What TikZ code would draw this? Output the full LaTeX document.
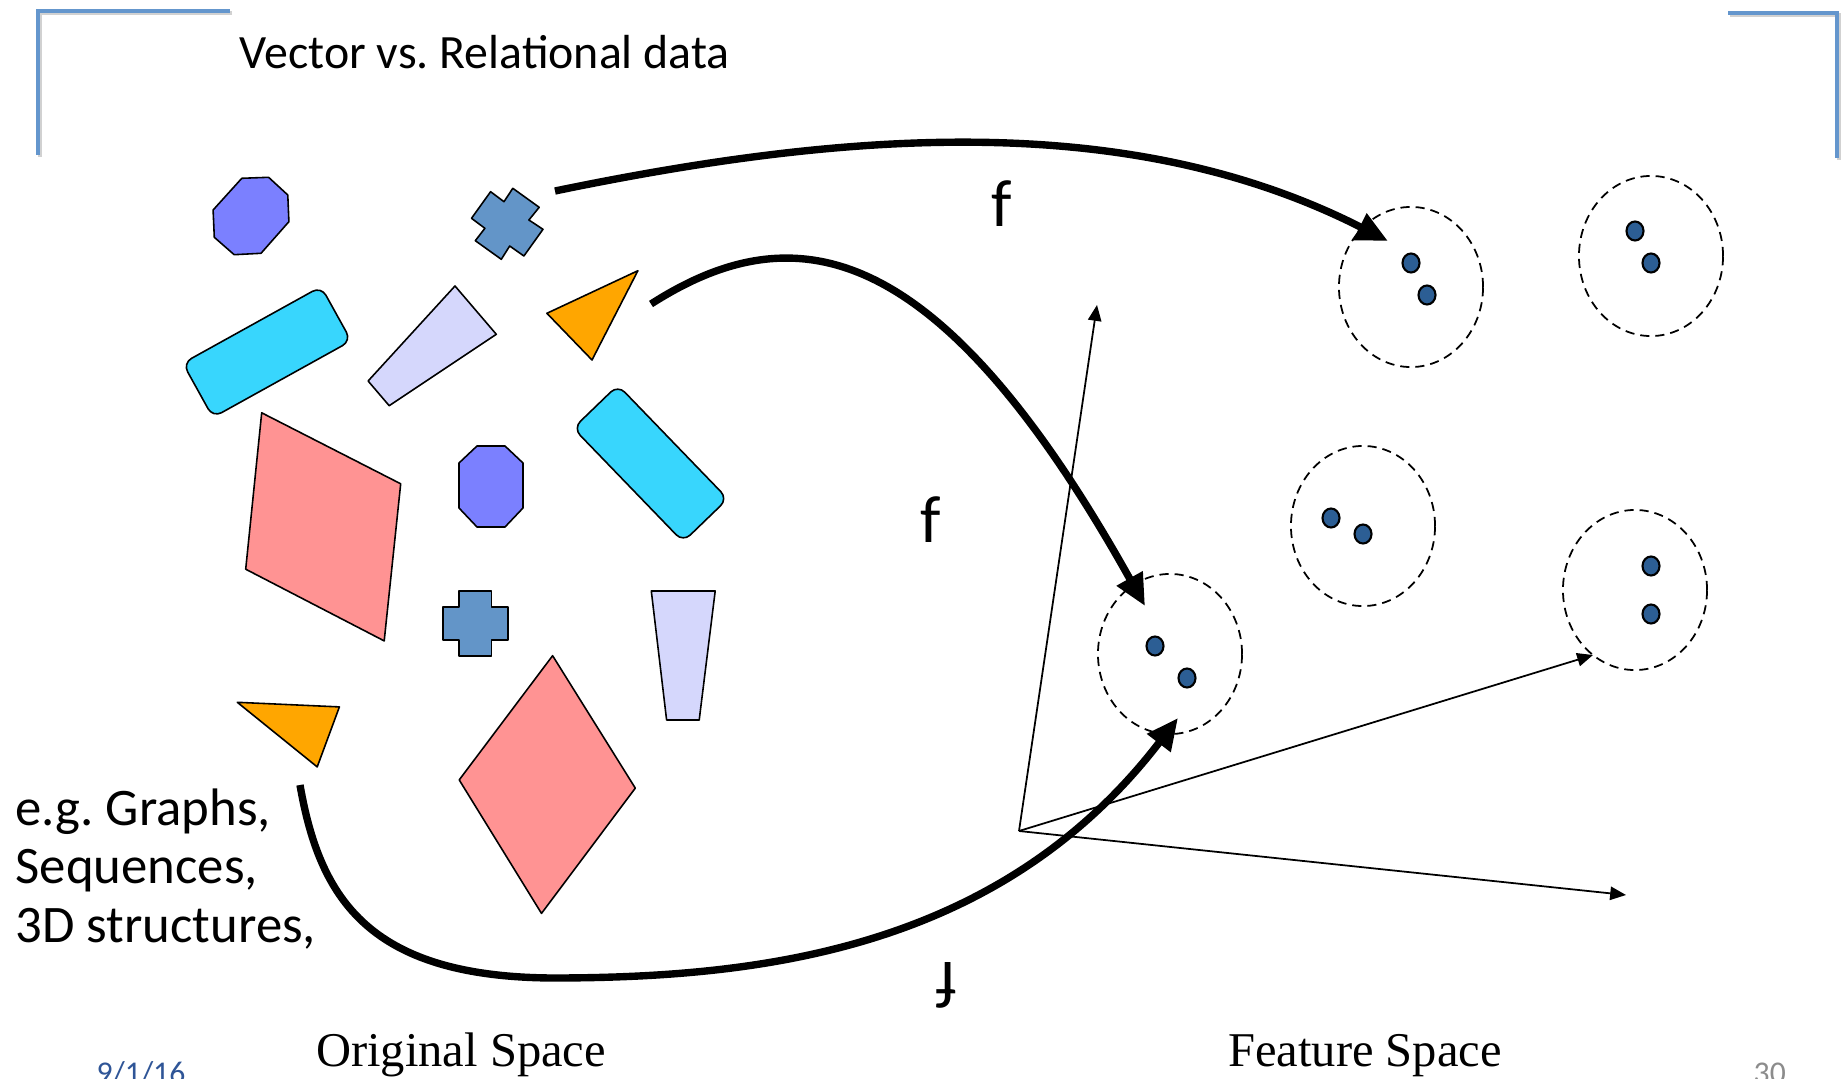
\documentclass[tikz,border=0pt]{standalone}
\usepackage{fontspec}
\setmainfont{Carlito}
\newfontfamily\serifface{Liberation Serif}
\usepackage{xcolor}
\usetikzlibrary{arrows.meta,shapes.geometric}
\frenchspacing

\definecolor{frameblue}{RGB}{100,150,205}
\definecolor{octblue}{RGB}{123,128,255}
\definecolor{crossblue}{RGB}{99,149,200}
\definecolor{barcyan}{RGB}{56,214,253}
\definecolor{lavender}{RGB}{213,215,252}
\definecolor{tanorange}{RGB}{255,166,0}
\definecolor{salmon}{RGB}{255,147,147}
\definecolor{dotblue}{RGB}{44,94,148}
\definecolor{datecol}{RGB}{47,85,151}

\begin{document}
\begin{tikzpicture}[
  x=0.01cm, y=-0.01cm,
  bracket/.style={draw=frameblue, line width=1.15pt},
  bracketshadow/.style={draw=black!18, line width=1.15pt},
  piece/.style={draw=black, line width=0.45pt, line join=round},
  bar/.style={piece, fill=barcyan, rounded corners=2.8pt, minimum width=1.58cm, minimum height=0.62cm, inner sep=0pt},
  maparrow/.style={line width=2.1pt, -{Triangle[length=9pt,width=8pt]}},
  axisline/.style={line width=0.5pt, -{Triangle[length=4.5pt,width=3.8pt]}},
  cluster/.style={ellipse, draw, dash pattern=on 2.6pt off 1.7pt, line width=0.5pt, minimum width=1.44cm, minimum height=1.6cm, inner sep=0pt},
  dot/.style={ellipse, draw, fill=dotblue, line width=0.6pt, minimum width=0.17cm, minimum height=0.19cm, inner sep=0pt},
  flabel/.style={font=\fontsize{19}{22}\selectfont, inner sep=0pt},
  spacelabel/.style={font=\serifface\fontsize{13.8}{16}\selectfont, anchor=base, inner sep=0pt},
  footer/.style={font=\fontsize{9}{11}\selectfont, anchor=base west, inner sep=0pt}
]
  \fill[white] (0,0) rectangle (1845,1079);
  \useasboundingbox (0,0) rectangle (1845,1079);
  \draw[bracketshadow, shift={(2,2)}] (230,11) -- (38,11) -- (38,155);
  \draw[bracket] (230,11) -- (38,11) -- (38,155);
  \draw[bracketshadow, shift={(2,2)}] (1728,13) -- (1837,13) -- (1837,158);
  \draw[bracket] (1728,13) -- (1837,13) -- (1837,158);
  \node[anchor=base west, inner sep=0pt, font=\fontsize{13.6}{16}\selectfont] (title) at (239,69) {Vector vs. Relational data};
  \draw[piece, fill=octblue] (241.8,178.3) -- (268.6,177.3) -- (287.8,195) -- (288.9,221.7) -- (261,253.3) -- (234.2,254.7) -- (214.3,237.3) -- (213.1,210) -- cycle;
  \draw[piece, fill=crossblue] (490.6,191.7) -- (504,201.7) -- (512.8,188.3) -- (539.2,207.3) -- (528.9,220) -- (543,229.3) -- (523.9,256) -- (509.7,246) -- (501.3,259.3) -- (475.3,240.7) -- (484.9,228.3) -- (471.5,218.3) -- cycle;
  \node[bar, rotate=29] (bar1) at (267,352) {};
  \draw[piece, fill=lavender] (455,286) -- (496.3,334.3) -- (389.2,405.7) -- (368.1,381) -- cycle;
  \draw[piece, fill=tanorange] (637.9,270.7) -- (592,360) -- (546.9,313.3) -- cycle;
  \draw[piece, fill=salmon] (261.7,412.8) -- (400.7,483.8) -- (384.2,640.9) -- (245.7,569.2) -- cycle;
  \draw[piece, fill=octblue] (477,446) -- (505,446) -- (523,463) -- (523,508) -- (505,527) -- (477,527) -- (459,508) -- (459,463) -- cycle;
  \node[bar, rotate=-46] (bar2) at (650.5,463.5) {};
  \draw[piece, fill=crossblue] (458.8,591) -- (491.4,591) -- (491.4,607) -- (507.8,607) -- (507.8,640) -- (491.4,640) -- (491.4,656) -- (458.8,656) -- (458.8,640) -- (442.8,640) -- (442.8,607) -- (458.8,607) -- cycle;
  \draw[piece, fill=lavender] (651.3,591) -- (715.2,591) -- (699.2,720) -- (666.6,720) -- cycle;
  \draw[piece, fill=tanorange] (237.3,702.3) -- (339.4,706.9) -- (317.2,766.9) -- cycle;
  \draw[piece, fill=salmon] (552.6,655.7) -- (635.3,788.1) -- (541.5,913.4) -- (459.2,779.9) -- cycle;
  \foreach \name/\x/\y in {c1/1411/287, c2/1651/256, c3/1363/526, c4/1635/590, c5/1170/654}
    \node[cluster] (\name) at (\x,\y) {};
  \foreach \name/\x/\y in {
    c1a/1411/263, c1b/1427/295, c2a/1635/231, c2b/1651/263,
    c3a/1331/518, c3b/1363/534, c4a/1651/566, c4b/1651/614,
    c5a/1155/646, c5b/1187/678
  }
    \node[dot] (\name) at (\x,\y) {};
  \coordinate (o) at (1019,831);
  \coordinate (ya) at (1097,305);
  \coordinate (za) at (1593,655);
  \coordinate (xa) at (1626,895);
  \draw[axisline] (o) -- (ya);
  \draw[axisline] (o) -- (za);
  \draw[axisline] (o) -- (xa);
  \coordinate (s1) at (555,191);
  \coordinate (t1) at (1388,241);
  \coordinate (s2) at (651,304);
  \coordinate (t2) at (1145,606);
  \coordinate (s3) at (300,785);
  \coordinate (m3) at (560,978);
  \coordinate (t3) at (1178,718);
  \draw[maparrow] (s1) .. controls (850,130) and (1130,110) .. (t1);
  \draw[maparrow] (s2) .. controls (790,215) and (935,230) .. (t2);
  \draw[maparrow] (s3) .. controls (320,900) and (370,979) .. (m3) .. controls (760,977) and (1000,950) .. (t3);
  \node[flabel, anchor=base] (f1) at (1002,227) {f};
  \node[flabel, anchor=base] (f2) at (931,542) {f};
  \node[flabel, rotate=180] (f3) at (946,985) {f};
  \node[anchor=base west, inner sep=0pt, align=left, font=\fontsize{15}{16.5}\selectfont] (examples) at (15,942) {e.g. Graphs,\\Sequences,\\3D structures,};
  \node[spacelabel] (orig) at (461,1066) {Original Space};
  \node[spacelabel] (feat) at (1365,1066) {Feature Space};
  \node[footer, text=datecol] (date) at (96,1083) {9/1/16};
  \node[footer, text=black!45] (page) at (1753,1083) {30};
\end{tikzpicture}
\end{document}
